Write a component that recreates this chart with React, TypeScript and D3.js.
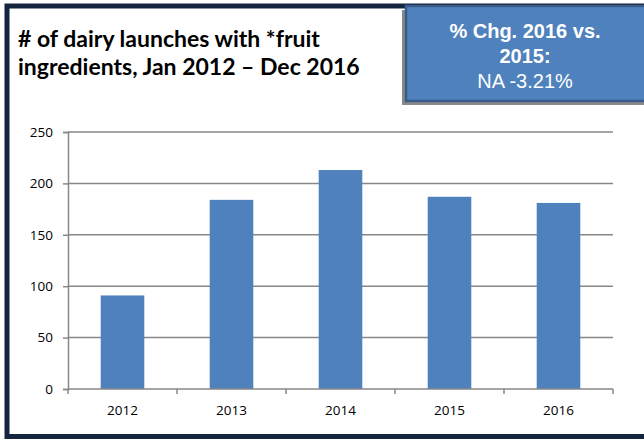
import React from "react";
import * as d3 from "d3";

const years = ["2012", "2013", "2014", "2015", "2016"];
const launches = [91, 184, 213, 187, 181];
const yTicks = [0, 50, 100, 150, 200, 250];
const titleLines = ["# of dairy launches with *fruit", "ingredients, Jan 2012 \u2013 Dec 2016"];
const boxLines = ["% Chg. 2016 vs.", "2015:", "NA -3.21%"];

const W = 644;
const H = 439;
const margin = { top: 132, right: 31, bottom: 50, left: 68 };

const App: React.FC = () => {
  const svgRef = React.useRef<SVGSVGElement>(null);

  React.useEffect(() => {
    const svgEl = d3.select(svgRef.current);
    svgEl.selectAll("*").remove();

    const width = W - margin.left - margin.right;
    const height = H - margin.top - margin.bottom;

    svgEl.append("rect").attr("width", W).attr("height", H).attr("fill", "white");

    // outer navy frame (runs off the right edge)
    svgEl
      .append("rect")
      .attr("x", 7)
      .attr("y", 6)
      .attr("width", 700)
      .attr("height", 430.5)
      .attr("fill", "none")
      .attr("stroke", "#14253f")
      .attr("stroke-width", 5);

    // title
    svgEl
      .append("g")
      .selectAll("text")
      .data(titleLines)
      .join("text")
      .attr("x", 18)
      .attr("y", (d, i) => 47 + i * 28)
      .attr("font-family", "Lato, sans-serif")
      .attr("font-weight", "bold")
      .attr("font-size", "23px")
      .attr("fill", "#000")
      .text((d) => d);

    // % change box with shadow
    svgEl
      .append("rect")
      .attr("x", 402)
      .attr("y", 10)
      .attr("width", 260)
      .attr("height", 95)
      .attr("fill", "#3b3b3b")
      .attr("opacity", 0.6);
    svgEl
      .append("rect")
      .attr("x", 406)
      .attr("y", 6)
      .attr("width", 260)
      .attr("height", 95)
      .attr("fill", "#4f81bd")
      .attr("stroke", "#385d8a")
      .attr("stroke-width", 2.5);

    svgEl
      .append("g")
      .selectAll("text")
      .data(boxLines)
      .join("text")
      .attr("x", 525)
      .attr("y", (d, i) => 38 + i * 25)
      .attr("text-anchor", "middle")
      .attr("font-family", "'Liberation Sans', Arial, sans-serif")
      .attr("font-weight", (d, i) => (i < 2 ? "bold" : "normal"))
      .attr("font-size", "20px")
      .attr("fill", "white")
      .text((d) => d);

    const svg = svgEl
      .append("g")
      .attr("transform", `translate(${margin.left},${margin.top})`);

    const xScale = d3.scaleBand<string>().domain(years).range([0, width]).padding(0);
    const yScale = d3.scaleLinear().domain([0, 250]).range([height, 0]);

    // grid lines
    svg
      .append("g")
      .selectAll("line")
      .data(yTicks.filter((t) => t > 0))
      .join("line")
      .attr("x1", 0)
      .attr("x2", width)
      .attr("y1", (d) => yScale(d))
      .attr("y2", (d) => yScale(d))
      .attr("stroke", "#878787")
      .attr("stroke-width", 1.5);

    // bars
    const barW = xScale.bandwidth() * 0.4;
    svg
      .append("g")
      .selectAll("rect")
      .data(launches)
      .join("rect")
      .attr("x", (d, i) => xScale(years[i])! + (xScale.bandwidth() - barW) / 2)
      .attr("y", (d) => yScale(d))
      .attr("width", barW)
      .attr("height", (d) => height - yScale(d))
      .attr("fill", "#4f81bd");

    // y axis
    const yAxis = d3.axisLeft(yScale).tickValues(yTicks).tickSize(5).tickPadding(10);
    const yAxisGroup = svg.append("g").call(yAxis);
    yAxisGroup.select(".domain").attr("stroke", "#878787").attr("stroke-width", 1.5);
    yAxisGroup.selectAll(".tick line").attr("stroke", "#878787").attr("stroke-width", 1.5);
    yAxisGroup
      .selectAll(".tick text")
      .attr("font-family", "'Open Sans', sans-serif")
      .attr("font-size", "13.5px")
      .attr("fill", "#000");

    // x axis
    const xAxisGroup = svg.append("g").attr("transform", `translate(0,${height})`);
    xAxisGroup
      .append("line")
      .attr("x1", 0)
      .attr("x2", width)
      .attr("stroke", "#878787")
      .attr("stroke-width", 1.5);
    xAxisGroup
      .selectAll(".xtick")
      .data(d3.range(years.length + 1))
      .join("line")
      .attr("class", "xtick")
      .attr("x1", (d) => d * xScale.step())
      .attr("x2", (d) => d * xScale.step())
      .attr("y1", 0)
      .attr("y2", 5)
      .attr("stroke", "#878787")
      .attr("stroke-width", 1.5);
    xAxisGroup
      .selectAll(".xlabel")
      .data(years)
      .join("text")
      .attr("class", "xlabel")
      .attr("x", (d) => xScale(d)! + xScale.bandwidth() / 2)
      .attr("y", 26)
      .attr("text-anchor", "middle")
      .attr("font-family", "'Open Sans', sans-serif")
      .attr("font-size", "13.5px")
      .attr("fill", "#000")
      .text((d) => d);
  }, []);

  return <svg ref={svgRef} width={W} height={H} style={{ position: "absolute", left: 0, top: 0 }} />;
};

export default App;
